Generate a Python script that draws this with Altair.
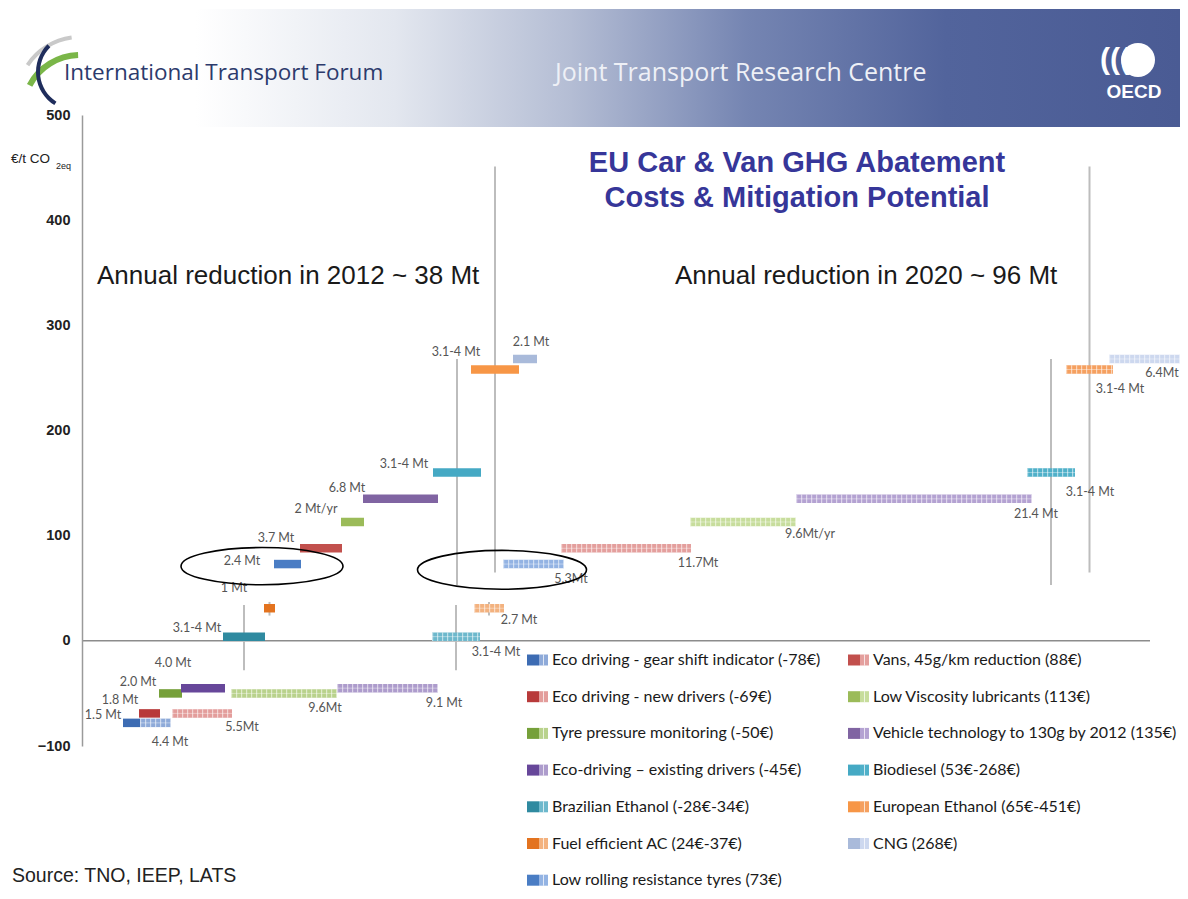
import altair as alt
import pandas as pd

# ---------------- data ----------------
names = [
    "Eco driving - gear shift indicator (-78€)",
    "Eco driving - new drivers (-69€)",
    "Tyre pressure monitoring  (-50€)",
    "Eco-driving – existing drivers (-45€)",
    "Brazilian Ethanol (-28€-34€)",
    "Fuel efficient AC (24€-37€)",
    "Low rolling resistance tyres (73€)",
    "Vans, 45g/km reduction (88€)",
    "Low Viscosity lubricants (113€)",
    "Vehicle technology to 130g by 2012 (135€)",
    "Biodiesel (53€-268€)",
    "European Ethanol (65€-451€)",
    "CNG  (268€)",
]
cost = [-78, -69, -50, -45, 4, 31, 73, 88, 113, 135, 160, 258, 268]
range_lo = [None, None, None, None, -28, 24, None, None, None, None, 53, 65, None]
range_hi = [None, None, None, None, 34, 37, None, None, None, None, 268, 451, None]

col_solid = ["#3d6cb3", "#b83a3a", "#76a03a", "#67479a", "#2f8aa0", "#e3731f", "#4a7dc4",
             "#c2504d", "#9bbb59", "#8064a2", "#45a9c4", "#f79646", "#a9bada"]
col_light = ["#8eaad9", "#e39d9b", "#b9d28c", "#ad9ccc", "#6db8cc", "#f3b27f", "#93b3e3",
             "#e49f9d", "#c7dd9c", "#b4a2d2", "#4fb0c9", "#f5a060", "#cdd8ef"]

# cumulative abatement axis (chart units) - 2012 (solid) and 2020 (patterned)
x0_2012 = [41, 57, 77, 99, 141, 182, 192, 218, 259, 281, 351, 389, 431]
x1_2012 = [58, 78, 100, 143, 183, 193, 219, 260, 282, 356, 399, 437, 455]
x0_2020 = [58, 90, 149, 255, 350, 392, 421, 479, 608, 714, 945, 984, 1027]
x1_2020 = [89, 150, 255, 356, 398, 422, 482, 609, 714, 950, 993, 1031, 1098]

lab_text = ["1.5 Mt", "1.8 Mt", "2.0 Mt", "4.0 Mt", "3.1-4 Mt", "1 Mt", "2.4 Mt", "3.7 Mt",
            "2 Mt/yr", "6.8 Mt", "3.1-4 Mt", "3.1-4 Mt", "2.1 Mt",
            "4.4 Mt", "5.5Mt", "9.6Mt", "9.1 Mt", "3.1-4 Mt", "2.7 Mt", "5.3Mt", "11.7Mt",
            "9.6Mt/yr", "21.4 Mt", "3.1-4 Mt", "3.1-4 Mt", "6.4Mt"]
lab_x = [21, 38, 56, 91, 115, 152, 160, 194, 234, 265, 322, 374, 449,
         88, 160, 243, 362, 414, 437, 489, 616, 728, 954, 1008, 1038, 1080]
lab_y = [-70.4, -56.1, -39, -20.9, 12.4, 50.4, 76, 98, 125.5, 145.5, 168.3, 274.8, 284.3,
         -96.1, -81.8, -63.7, -59, -10.5, 20, 59, 74.2, 101.7, 120.8, 141.7, 239.6, 254.8]

ell_x = [180, 420]
ell_y = [71, 67.5]
ell_w = [162, 169]

y_ticks = [-100, 0, 100, 200, 300, 400, 500]

# ---------------- layout helpers ----------------
W, H = 1098, 631
OX, OY = 82, 115  # page position of plot origin

xscale = alt.Scale(domain=[0, W], range=[0, W], nice=False, zero=False)
yscale = alt.Scale(domain=[-100, 500], nice=False, zero=False)
yaxis = alt.Axis(values=y_ticks, title=None, grid=False, ticks=False, tickSize=0,
                 labelPadding=12, labelFont="Liberation Sans", labelFontWeight="bold",
                 labelFontSize=14.5, labelColor="#222222", domainColor="#9a9a9a",
                 domainWidth=1.5, zindex=1)


def X(f):
    return alt.X(f, type="quantitative", scale=xscale, axis=None)


def Y(f):
    return alt.Y(f, type="quantitative", scale=yscale, axis=yaxis)


def txt(s, px, py, size, color="#000000", font="Liberation Sans", weight="normal",
        align="left", baseline="middle"):
    return alt.Chart(pd.DataFrame({"t": [s]})).mark_text(
        font=font, fontSize=size, color=color, fontWeight=weight, align=align,
        baseline=baseline
    ).encode(text="t:N", x=alt.value(px - OX), y=alt.value(py - OY))


bars = pd.DataFrame({
    "name": names * 2,
    "cost": cost * 2,
    "x0": x0_2012 + x0_2020,
    "x1": x1_2012 + x1_2020,
    "col": col_solid + col_light,
    "year": ["2012"] * 13 + ["2020"] * 13,
})
bars20 = bars[bars["year"] == "2020"]

rng_rows = []
for i in range(13):
    if range_lo[i] is not None:
        for a, b in ((x0_2012, x1_2012), (x0_2020, x1_2020)):
            rng_rows.append({"xm": (a[i] + b[i]) / 2, "lo": range_lo[i], "hi": range_hi[i]})
rng = pd.DataFrame(rng_rows)

labels = pd.DataFrame({"t": lab_text, "x": lab_x, "y": lab_y})
ells = pd.DataFrame({"x": ell_x, "y": ell_y, "s": [w * w for w in ell_w]})

# ---------------- layers ----------------
banner = alt.Chart(pd.DataFrame({"a": [0]})).mark_rect(
    color=alt.LinearGradient(
        gradient="linear", x1=0, x2=1, y1=0, y2=0,
        stops=[alt.GradientStop(color="#ffffff", offset=0),
               alt.GradientStop(color="#ffffff", offset=0.16),
               alt.GradientStop(color="#e3e7ef", offset=0.33),
               alt.GradientStop(color="#b4bdd4", offset=0.48),
               alt.GradientStop(color="#7585b2", offset=0.63),
               alt.GradientStop(color="#52649c", offset=0.8),
               alt.GradientStop(color="#4a5b94", offset=1)])
).encode(x=alt.value(8 - OX), x2=alt.value(1180 - OX), y=alt.value(9 - OY),
         y2=alt.value(127 - OY))

logo_gray = alt.Chart(pd.DataFrame({"a": [0]})).mark_arc(
    theta=5.3, theta2=6.15, innerRadius=61, outerRadius=65, color="#c9c9c9"
).encode(x=alt.value(80 - OX), y=alt.value(100 - OY))
logo_green = alt.Chart(pd.DataFrame({"a": [0]})).mark_arc(
    theta=5.2, theta2=6.25, innerRadius=54, outerRadius=60, color="#7ab648"
).encode(x=alt.value(80 - OX), y=alt.value(112 - OY))
logo_navy = alt.Chart(pd.DataFrame({"a": [0]})).mark_arc(
    theta=3.7, theta2=5.5, innerRadius=35, outerRadius=39, color="#1f2d5c"
).encode(x=alt.value(75 - OX), y=alt.value(72 - OY))

oecd_circle = alt.Chart(pd.DataFrame({"a": [0]})).mark_point(
    shape="circle", filled=True, color="#ffffff", opacity=1, size=1156
).encode(x=alt.value(1138 - OX), y=alt.value(60 - OY))

zero = alt.Chart(pd.DataFrame({"a": [0], "b": [1068], "y": [0]})).mark_rule(
    color="#8c8c8c", strokeWidth=1.5
).encode(x=X("a"), x2="b", y=Y("y"))

rlines = alt.Chart(rng).mark_rule(color="#bdbdbd", strokeWidth=2).encode(
    x=X("xm"), y=Y("lo"), y2="hi")

bar_layer = alt.Chart(bars).mark_rule(strokeWidth=8.5).encode(
    x=X("x0"), x2="x1", y=Y("cost"), color=alt.Color("col:N", scale=None))

pattern_v = alt.Chart(bars20).mark_rule(
    strokeWidth=8.5, strokeDash=[1.2, 3.8], color="#ffffff", opacity=0.55
).encode(x=X("x0"), x2="x1", y=Y("cost"))
pattern_h = alt.Chart(bars20).mark_rule(
    strokeWidth=0.8, color="#ffffff", opacity=0.5
).encode(x=X("x0"), x2="x1", y=Y("cost"))

lab_layer = alt.Chart(labels).mark_text(
    font="Lato", fontSize=12.5, color="#555555", align="center", baseline="middle"
).encode(x=X("x"), y=Y("y"), text="t:N")

ELLIPSE = "M -1 0 A 1 0.23 0 1 1 1 0 A 1 0.23 0 1 1 -1 0 Z"
ell_layer = alt.Chart(ells).mark_point(
    shape=ELLIPSE, filled=False, color="#000000", strokeWidth=1.6, opacity=1
).encode(x=X("x"), y=Y("y"), size=alt.Size("s:Q", scale=None))

# legend (custom, two columns)
leg_rows = []
for i, n in enumerate(names):
    c = 0 if i < 7 else 1
    r = i if i < 7 else i - 7
    sx = 527 - OX + c * 321
    sy = 660 - OY + r * 36.7
    leg_rows.append({"name": n, "c1": col_solid[i], "c2": col_light[i],
                     "sx": sx, "sy": sy})
leg = pd.DataFrame(leg_rows)
leg["a0"] = leg["sx"]
leg["a1"] = leg["sx"] + 12
leg["a2"] = leg["sx"] + 21
leg["t0"] = leg["sy"] - 5.5
leg["t1"] = leg["sy"] + 5.5
leg["tx"] = leg["sx"] + 25
leg["vx"] = leg["sx"] + 16.5

leg_sw1 = alt.Chart(leg).mark_rect().encode(
    x=alt.X("a0:Q", scale=None), x2="a1", y=alt.Y("t0:Q", scale=None), y2="t1",
    color=alt.Color("c1:N", scale=None))
leg_sw2 = alt.Chart(leg).mark_rect().encode(
    x=alt.X("a1:Q", scale=None), x2="a2", y=alt.Y("t0:Q", scale=None), y2="t1",
    color=alt.Color("c2:N", scale=None))
leg_sw3 = alt.Chart(leg).mark_rule(color="#ffffff", strokeWidth=1, opacity=0.7).encode(
    x=alt.X("vx:Q", scale=None), y=alt.Y("t0:Q", scale=None), y2="t1")
leg_txt = alt.Chart(leg).mark_text(
    font="Lato", fontSize=16, color="#1a1a1a", align="left", baseline="middle"
).encode(x=alt.X("tx:Q", scale=None), y=alt.Y("sy:Q", scale=None), text="name:N")

texts = [
    txt("International Transport Forum", 64, 73, 22.5, "#2c3a6c", font="Open Sans"),
    txt("Joint Transport Research Centre", 555, 73, 25, "#eef0f6", font="Open Sans"),
    txt("(((", 1100, 60, 30, "#ffffff", font="Liberation Sans", weight="bold"),
    txt("OECD", 1134, 92, 19, "#ffffff", font="Liberation Sans", weight="bold",
        align="center"),
    txt("EU Car & Van GHG Abatement", 797, 163, 29, "#363699", weight="bold",
        align="center"),
    txt("Costs & Mitigation Potential", 797, 198, 29, "#363699", weight="bold",
        align="center"),
    txt("Annual reduction in 2012 ~ 38 Mt", 97, 276, 26, "#1a1a1a"),
    txt("Annual reduction in 2020 ~ 96 Mt", 675, 276, 26, "#1a1a1a"),
    txt("€/t CO", 11, 159, 13.5, "#222222"),
    txt("2eq", 56, 166, 9, "#222222"),
    txt("Source: TNO, IEEP, LATS", 12, 876, 19.5, "#222222"),
]

chart = alt.layer(
    banner, logo_gray, logo_green, logo_navy, oecd_circle,
    zero, rlines, bar_layer, pattern_v, pattern_h, lab_layer, ell_layer,
    leg_sw1, leg_sw2, leg_sw3, leg_txt, *texts
).properties(
    width=W, height=H,
    autosize=alt.AutoSizeParams(type="none"),
    padding={"left": 74, "top": 107, "right": 0, "bottom": 145},
    background="white",
).configure_view(stroke=None)

chart.save("out.html", embed_options={"renderer": "svg", "actions": False})
